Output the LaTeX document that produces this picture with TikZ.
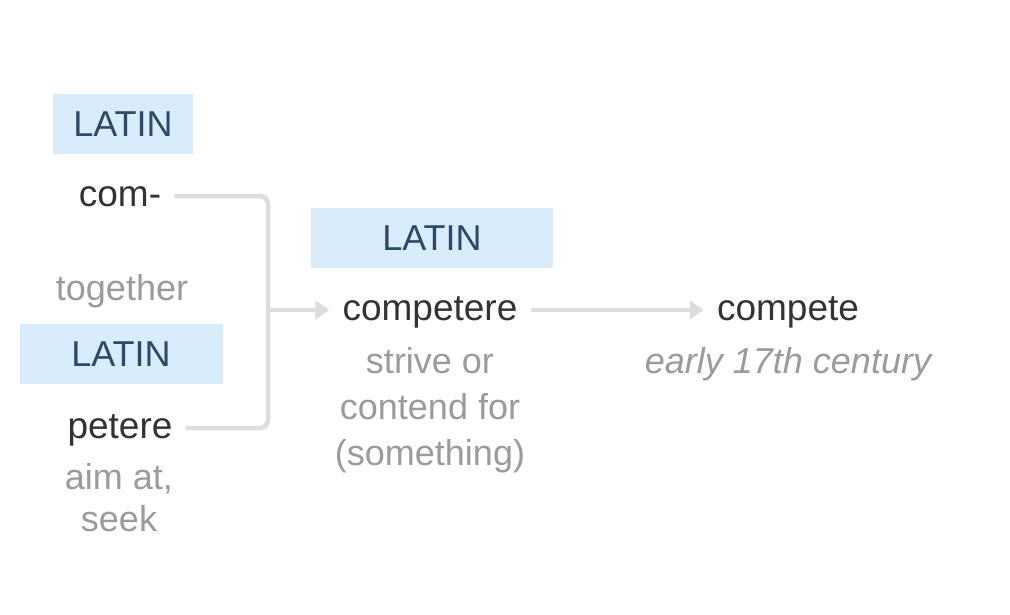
\documentclass[tikz,border=0pt]{standalone}
\usepackage{fontspec}
\setmainfont{Liberation Sans}
\usetikzlibrary{arrows.meta}
\definecolor{boxblue}{HTML}{D8ECFB}
\definecolor{langtext}{HTML}{2C4A68}
\definecolor{wordtext}{HTML}{333333}
\definecolor{glosstext}{HTML}{9B9B9B}
\definecolor{linkgray}{HTML}{DDDDDD}

\begin{document}
\begin{tikzpicture}[x=1pt,y=-1pt,
    lang/.style={fill=boxblue,text=langtext,minimum height=60pt,inner sep=0pt,font=\fontsize{36}{40}\selectfont},
    word/.style={text=wordtext,anchor=base,inner xsep=13pt,inner ysep=0pt,font=\fontsize{37}{40}\selectfont},
    gloss/.style={text=glosstext,anchor=base,align=center,inner sep=0pt,font=\fontsize{36}{46}\selectfont},
    link/.style={draw=linkgray,line width=4.5pt,rounded corners=8pt},
    linkarrow/.style={link,-{Triangle[width=18pt,length=14pt]}}]
    \useasboundingbox (0,0) rectangle (1010,614);
    \node[lang,minimum width=140pt] (latinA) at (123,124) {LATIN};
    \node[word] (com) at (120,206) {com-};
    \node[gloss] (together) at (122,300) {together};
    \node[lang,minimum width=203pt] (latinB) at (121,354) {LATIN};
    \node[word] (petere) at (120,438) {petere};
    \node[gloss,font=\fontsize{36}{42}\selectfont] (aim) at (119,531) {aim at,\\seek};
    \node[lang,minimum width=242pt] (latinC) at (432,238) {LATIN};
    \node[word] (competere) at (430,320) {competere};
    \node[gloss] (strive) at (430,465) {strive or\\contend for\\(something)};
    \node[word] (compete) at (788,320) {compete};
    \node[gloss,font=\fontsize{36}{46}\itshape] (century) at (788,373) {early 17th century};
    \coordinate (join) at (268,310);
    \draw[link] ([yshift=10pt]com.base east) -| (join) |- ([yshift=10pt]petere.base east);
    \draw[linkarrow] (join) -- ([yshift=10pt]competere.base west);
    \draw[linkarrow] ([yshift=10pt]competere.base east) -- ([yshift=10pt]compete.base west);
\end{tikzpicture}
\end{document}
